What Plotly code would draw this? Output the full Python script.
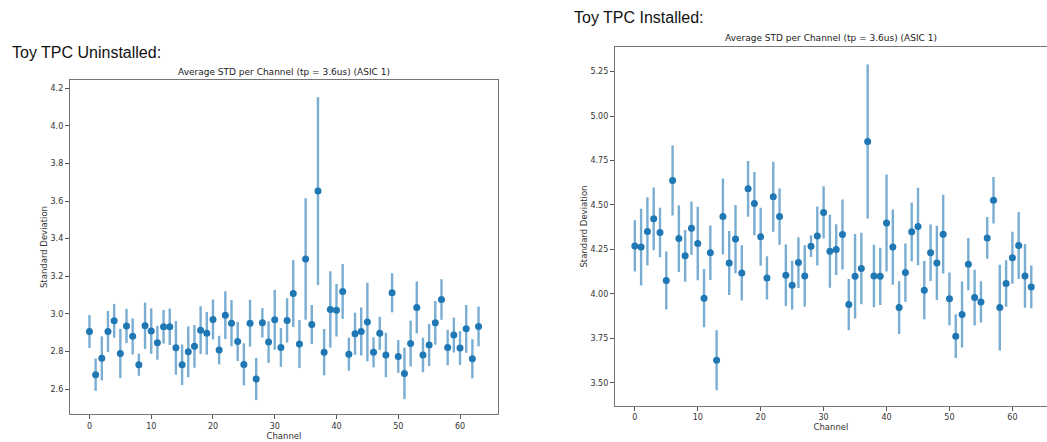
import plotly.graph_objects as go

# ---- data ----
channels = list(range(64))

uninst_mean = [2.906, 2.676, 2.763, 2.906, 2.963, 2.789, 2.935, 2.880, 2.729, 2.936,
               2.908, 2.846, 2.931, 2.931, 2.819, 2.729, 2.798, 2.827, 2.913, 2.896,
               2.970, 2.807, 2.993, 2.950, 2.853, 2.731, 2.950, 2.653, 2.952, 2.850,
               2.968, 2.821, 2.965, 3.108, 2.839, 3.292, 2.943, 3.653, 2.796, 3.023,
               3.019, 3.119, 2.785, 2.894, 2.906, 2.956, 2.795, 2.896, 2.781, 3.112,
               2.773, 2.683, 2.842, 3.034, 2.781, 2.834, 2.952, 3.076, 2.821, 2.887,
               2.818, 2.920, 2.761, 2.933]
uninst_err = [0.088, 0.086, 0.117, 0.109, 0.090, 0.131, 0.091, 0.096, 0.059, 0.123,
              0.121, 0.090, 0.089, 0.097, 0.143, 0.108, 0.135, 0.114, 0.127, 0.113,
              0.106, 0.076, 0.127, 0.123, 0.104, 0.112, 0.125, 0.112, 0.078, 0.111,
              0.159, 0.103, 0.118, 0.178, 0.128, 0.323, 0.104, 0.500, 0.123, 0.203,
              0.140, 0.146, 0.088, 0.112, 0.128, 0.209, 0.080, 0.088, 0.118, 0.104,
              0.087, 0.137, 0.122, 0.138, 0.092, 0.112, 0.116, 0.108, 0.094, 0.093,
              0.090, 0.127, 0.104, 0.106]

inst_mean = [4.270, 4.263, 4.351, 4.422, 4.345, 4.075, 4.638, 4.311, 4.214, 4.369,
             4.283, 3.976, 4.231, 3.627, 4.435, 4.174, 4.308, 4.118, 4.591, 4.508,
             4.321, 4.090, 4.546, 4.435, 4.105, 4.049, 4.176, 4.101, 4.268, 4.326,
             4.458, 4.240, 4.249, 4.334, 3.940, 4.099, 4.143, 4.857, 4.101, 4.099,
             4.399, 4.263, 3.923, 4.120, 4.349, 4.379, 4.021, 4.231, 4.174, 4.336,
             3.972, 3.762, 3.884, 4.167, 3.979, 3.955, 4.315, 4.527, 3.923, 4.058,
             4.203, 4.272, 4.101, 4.039]
inst_err = [0.144, 0.216, 0.192, 0.177, 0.139, 0.163, 0.197, 0.188, 0.146, 0.150,
            0.207, 0.164, 0.153, 0.169, 0.214, 0.180, 0.192, 0.155, 0.157, 0.178,
            0.163, 0.122, 0.197, 0.158, 0.173, 0.137, 0.143, 0.173, 0.061, 0.166,
            0.147, 0.205, 0.143, 0.197, 0.144, 0.238, 0.201, 0.433, 0.176, 0.161,
            0.273, 0.211, 0.148, 0.164, 0.165, 0.218, 0.164, 0.159, 0.209, 0.222,
            0.148, 0.123, 0.185, 0.147, 0.157, 0.116, 0.117, 0.131, 0.241, 0.131,
            0.146, 0.188, 0.179, 0.120]

left_yticks = [2.6, 2.8, 3.0, 3.2, 3.4, 3.6, 3.8, 4.0, 4.2]
right_yticks = [3.50, 3.75, 4.00, 4.25, 4.50, 4.75, 5.00, 5.25]
xticks = [0, 10, 20, 30, 40, 50, 60]

plot_title = "Average STD per Channel (tp = 3.6us) (ASIC 1)"
left_heading = "Toy TPC Uninstalled:"
right_heading = "Toy TPC Installed:"

W, H = 1047, 442
BLUE = "#1f77b4"
ERRC = "rgba(31,119,180,0.6)"
TICKFONT = dict(family="DejaVu Sans", size=8, color="#333")


def px_x(p):
    return p / W


def px_y(p):
    return 1 - p / H


fig = go.Figure()
fig.add_trace(go.Scatter(
    x=channels, y=uninst_mean, mode="markers",
    marker=dict(color=BLUE, size=7),
    error_y=dict(type="data", array=uninst_err, width=0, thickness=2.4, color=ERRC),
    xaxis="x", yaxis="y", showlegend=False))
fig.add_trace(go.Scatter(
    x=channels, y=inst_mean, mode="markers",
    marker=dict(color=BLUE, size=7),
    error_y=dict(type="data", array=inst_err, width=0, thickness=2.4, color=ERRC),
    xaxis="x2", yaxis="y2", showlegend=False))

axis_common = dict(showgrid=False, zeroline=False, showline=True, linecolor="#777",
                   linewidth=1.3, mirror=True, ticks="outside", ticklen=4,
                   tickcolor="#555", tickwidth=1, tickfont=TICKFONT, automargin=False)

TITLEFONT = dict(family="DejaVu Sans", size=8.5, color="#333")

fig.update_layout(
    width=W, height=H,
    margin=dict(l=0, r=0, t=0, b=0),
    paper_bgcolor="white", plot_bgcolor="white",
    xaxis=dict(domain=[px_x(70), px_x(498)], range=[-3.15, 66.15], anchor="y",
               tickvals=xticks,
               title=dict(text="Channel", font=TITLEFONT, standoff=2),
               **axis_common),
    yaxis=dict(domain=[px_y(414), px_y(80)], range=[2.467, 4.244], anchor="x",
               tickvals=left_yticks, tickformat=".1f",
               title=dict(text="Standard Deviation", font=TITLEFONT, standoff=1),
               **axis_common),
    xaxis2=dict(domain=[px_x(615), 1.0], range=[-3.15, 65.5], anchor="y2",
                tickvals=xticks,
                title=dict(text="Channel", font=TITLEFONT, standoff=2),
                **axis_common),
    yaxis2=dict(domain=[px_y(405.7), px_y(47.3)], range=[3.371, 5.387], anchor="x2",
                tickvals=right_yticks, tickformat=".2f",
                title=dict(text="Standard Deviation", font=TITLEFONT, standoff=1),
                **axis_common),
)

annos = [
    dict(text=left_heading, x=px_x(10), y=px_y(52), xanchor="left", yanchor="middle",
         font=dict(family="Liberation Sans", size=16, color="#111")),
    dict(text=right_heading, x=px_x(572), y=px_y(18), xanchor="left", yanchor="middle",
         font=dict(family="Liberation Sans", size=16, color="#111")),
    dict(text=plot_title, x=px_x(284), y=px_y(72), xanchor="center", yanchor="middle",
         font=dict(family="DejaVu Sans", size=9, color="#222")),
    dict(text=plot_title, x=px_x(831), y=px_y(38), xanchor="center", yanchor="middle",
         font=dict(family="DejaVu Sans", size=9, color="#222")),
]
for a in annos:
    fig.add_annotation(xref="paper", yref="paper", showarrow=False, **a)

fig.write_html("out.html")
